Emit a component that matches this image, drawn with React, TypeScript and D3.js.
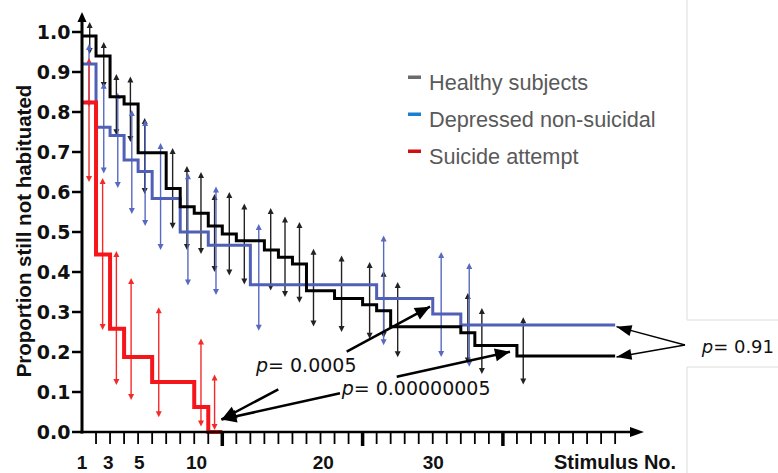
import React from 'react';
import * as d3 from 'd3';

// step curves: stimulus at which each level starts, and the level
const healthyStart = [0, 1, 2, 3, 4, 6, 7, 8, 9, 10, 11, 13, 14, 15, 16, 18, 20, 21, 22, 27, 28, 31];
const healthyProp = [0.99, 0.94, 0.838, 0.82, 0.698, 0.609, 0.563, 0.547, 0.515, 0.495, 0.478, 0.455, 0.437, 0.42, 0.353, 0.334, 0.318, 0.303, 0.263, 0.248, 0.216, 0.19];
const healthyEnd = 38;

const depressedStart = [0, 1, 2, 3, 4, 5, 7, 9, 12, 21, 25, 27];
const depressedProp = [0.92, 0.762, 0.741, 0.68, 0.651, 0.584, 0.5, 0.467, 0.368, 0.334, 0.295, 0.2675];
const depressedEnd = 38;

const suicideStart = [0, 1, 2, 3, 5, 8, 9];
const suicideProp = [0.824, 0.444, 0.258, 0.1875, 0.125, 0.0625, 0];
const suicideEnd = 10;

// confidence bars
const healthyBarAt = [0.55, 1.55, 2.45, 3.45, 4.47, 6.46, 7.48, 8.48, 9.45, 10.5, 11.57, 13.45, 14.47, 15.5, 16.5, 18.5, 20.5, 21.5, 22.5, 27.5, 28.5, 31.45];
const healthyHi = [1.02, 0.97, 0.89, 0.884, 0.78, 0.705, 0.66, 0.645, 0.59, 0.595, 0.566, 0.555, 0.534, 0.52, 0.453, 0.436, 0.42, 0.398, 0.37, 0.3425, 0.305, 0.282];
const healthyLo = [0.95, 0.865, 0.747, 0.73, 0.6, 0.513, 0.46, 0.45, 0.405, 0.396, 0.374, 0.359, 0.3425, 0.328, 0.269, 0.255, 0.238, 0.24, 0.192, 0.176, 0.15, 0.124];

const depressedBarAt = [0.5, 1.55, 2.55, 3.55, 4.5, 5.6, 7.55, 9.55, 12.6, 21.5, 25.6, 27.6];
const depressedHi = [0.965, 0.868, 0.843, 0.8, 0.775, 0.7175, 0.642, 0.609, 0.515, 0.486, 0.445, 0.4175];
const depressedLo = [0.818, 0.651, 0.615, 0.55, 0.52, 0.46, 0.371, 0.3475, 0.258, 0.222, 0.1925, 0.168];

const suicideBarAt = [0.5, 1.47, 2.45, 3.5, 5.47, 8.48, 9.45];
const suicideHi = [0.93, 0.63, 0.4475, 0.38, 0.307, 0.229, 0.139];
const suicideLo = [0.63, 0.26, 0.1225, 0.085, 0.042, 0.019, 0.01];

const yTicks = [0, 0.1, 0.2, 0.3, 0.4, 0.5, 0.6, 0.7, 0.8, 0.9, 1.0];
const xTickLabels = ['1', '3', '5', '10', '20', '30'];
const xTickLabelAt = [0, 1.88, 4.08, 8.17, 17.2, 25.04];

const legendNames = ['Healthy subjects', 'Depressed non-suicidal', 'Suicide attempt'];
const legendColors = ['#6b6b6b', '#1a7fd0', '#d01010'];

const W = 778;
const H = 473;
const FONT = '"Liberation Sans", Arial, sans-serif';

type Pt = [number, number];

function arrowHead(from: Pt, tip: Pt, len: number, half: number): string {
  const dx = tip[0] - from[0];
  const dy = tip[1] - from[1];
  const d = Math.hypot(dx, dy);
  const ux = dx / d;
  const uy = dy / d;
  const bx = tip[0] - ux * len;
  const by = tip[1] - uy * len;
  return `${tip[0]},${tip[1]} ${bx - uy * half},${by + ux * half} ${bx + uy * half},${by - ux * half}`;
}

const App: React.FC = () => {
  const x = d3.scaleLinear().domain([0, 38]).range([82, 82 + 38 * 14.03]);
  const y = d3.scaleLinear().domain([0, 1]).range([432, 32]);

  const stepLine = d3
    .line<Pt>()
    .x(d => x(d[0]))
    .y(d => y(d[1]))
    .curve(d3.curveStepAfter);

  const series = [
    { start: depressedStart, prop: depressedProp, end: depressedEnd, color: '#4f60b6', width: 3 },
    { start: healthyStart, prop: healthyProp, end: healthyEnd, color: '#000000', width: 3 },
    { start: suicideStart, prop: suicideProp, end: suicideEnd, color: '#f5161b', width: 4 },
  ];

  const bars = [
    { at: healthyBarAt, hi: healthyHi, lo: healthyLo, color: '#222222' },
    { at: depressedBarAt, hi: depressedHi, lo: depressedLo, color: '#5869c0' },
    { at: suicideBarAt, hi: suicideHi, lo: suicideLo, color: '#f42a2a' },
  ];

  const xTicks = d3.range(1, 39);

  // annotation arrows (pixel space)
  const arrows: { from: Pt; tip: Pt; w: number; len: number; half: number }[] = [
    { from: [346.7, 351.7], tip: [430, 306.7], w: 2.5, len: 15, half: 6.5 },
    { from: [278.3, 389.3], tip: [221.5, 419.5], w: 2.5, len: 15, half: 6.5 },
    { from: [340, 393.3], tip: [221.5, 419.5], w: 2.5, len: 15, half: 6.5 },
    { from: [396.7, 376.7], tip: [510, 351.7], w: 2.5, len: 15, half: 6.5 },
    { from: [685, 345], tip: [616.5, 326.7], w: 1.3, len: 15, half: 5.5 },
    { from: [685, 345], tip: [616.5, 357], w: 1.3, len: 15, half: 5.5 },
  ];

  return (
    <svg width={W} height={H} style={{ position: 'absolute', left: 0, top: 0, background: '#fff' }}>
      {/* frame of the pasted label box */}
      <g stroke="#dcdcdc" strokeWidth={1}>
        <line x1={687} x2={687} y1={0} y2={320} />
        <line x1={687} x2={687} y1={367} y2={H} />
        <line x1={687} x2={W} y1={320} y2={320} />
        <line x1={687} x2={W} y1={367} y2={367} />
      </g>

      {/* error bars */}
      {bars.map((b, bi) => (
        <g key={bi} stroke={b.color} fill={b.color}>
          {b.at.map((s, i) => {
            const cx = x(s);
            const top = y(b.hi[i]);
            const bot = y(b.lo[i]);
            return (
              <g key={i}>
                <line x1={cx} x2={cx} y1={top + 3} y2={bot - 3} strokeWidth={1.4} />
                <polygon stroke="none" points={`${cx},${top - 2} ${cx - 3},${top + 4} ${cx + 3},${top + 4}`} />
                <polygon stroke="none" points={`${cx},${bot + 2} ${cx - 3},${bot - 4} ${cx + 3},${bot - 4}`} />
              </g>
            );
          })}
        </g>
      ))}

      {/* step curves */}
      {series.map((s, si) => {
        const pts: Pt[] = s.start.map((st, i) => [st, s.prop[i]] as Pt);
        pts.push([s.end, s.prop[s.prop.length - 1]]);
        return (
          <path key={si} d={stepLine(pts) || ''} fill="none" stroke={s.color} strokeWidth={s.width} strokeLinejoin="miter" />
        );
      })}

      {/* y axis */}
      <line x1={82} x2={82} y1={433.5} y2={20} stroke="#000" strokeWidth={3} />
      <polygon points="82,12 77.5,22 86.5,22" fill="#000" />
      {yTicks.map(t => (
        <g key={t}>
          <line x1={72} x2={82} y1={y(t)} y2={y(t)} stroke="#000" strokeWidth={2.5} />
          <text
            x={70.5}
            y={y(t)}
            dy="0.36em"
            textAnchor="end"
            fontFamily='"DejaVu Sans", sans-serif'
            fontWeight="bold"
            fontSize={19}
            fill="#111"
          >
            {t.toFixed(1)}
          </text>
        </g>
      ))}
      <text
        transform="translate(31,231) rotate(-90)"
        textAnchor="middle"
        fontFamily={FONT}
        fontWeight="bold"
        fontSize={20.5}
        fill="#111"
      >
        Proportion still not habituated
      </text>

      {/* x axis */}
      <line x1={80.5} x2={632} y1={432} y2={432} stroke="#000" strokeWidth={2.5} />
      <polygon points="644,432 630,427 630,437" fill="#000" />
      {xTicks.map(t => (
        <line
          key={t}
          x1={x(t)}
          x2={x(t)}
          y1={432}
          y2={t % 10 === 0 ? 446 : 444}
          stroke="#000"
          strokeWidth={t % 10 === 0 ? 3.5 : 1.8}
        />
      ))}
      {xTickLabels.map((l, i) => (
        <text
          key={l}
          x={x(xTickLabelAt[i])}
          y={469}
          textAnchor="middle"
          fontFamily={FONT}
          fontWeight="bold"
          fontSize={19}
          fill="#111"
        >
          {l}
        </text>
      ))}
      <text x={615} y={469} textAnchor="middle" fontFamily={FONT} fontWeight="bold" fontSize={20} fill="#111">
        Stimulus No.
      </text>

      {/* legend */}
      {legendNames.map((n, i) => (
        <g key={n} transform={`translate(408, ${89.5 + i * 37})`}>
          <rect x={0} y={-14} width={13} height={3.5} fill={legendColors[i]} />
          <text x={21} y={0} fontFamily={FONT} fontSize={21.7} fill="#595959">
            {n}
          </text>
        </g>
      ))}

      {/* annotations */}
      {arrows.map((a, i) => (
        <g key={i}>
          <line x1={a.from[0]} y1={a.from[1]} x2={a.tip[0]} y2={a.tip[1]} stroke="#000" strokeWidth={a.w} />
          <polygon points={arrowHead(a.from, a.tip, a.len, a.half)} fill="#000" />
        </g>
      ))}
      <text x={256} y={372} fontFamily='"DejaVu Sans", sans-serif' fontSize={19} fill="#111">
        <tspan fontStyle="italic">p</tspan>= 0.0005
      </text>
      <text x={341.7} y={395} fontFamily='"DejaVu Sans", sans-serif' fontSize={19} fill="#111">
        <tspan fontStyle="italic">p</tspan>= 0.00000005
      </text>
      <text x={701.7} y={353.3} fontFamily='"DejaVu Sans", sans-serif' fontSize={18} fill="#111">
        <tspan fontStyle="italic">p</tspan>= 0.91
      </text>
    </svg>
  );
};

export default App;
